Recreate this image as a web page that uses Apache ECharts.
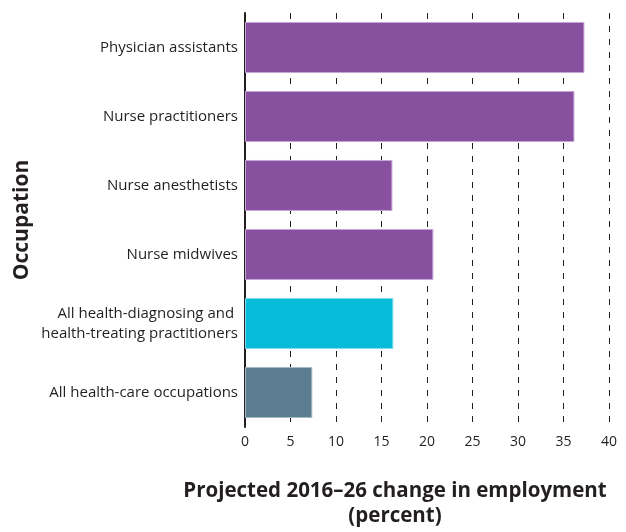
<!DOCTYPE html>
<html>
<head>
<meta charset="utf-8">
<script src="https://cdn.jsdelivr.net/npm/echarts@6/dist/echarts.min.js"></script>
<style>
  html, body { margin: 0; padding: 0; background: #fff; }
  #chart { width: 626px; height: 532px; }
</style>
</head>
<body>
<div id="chart"></div>
<script>
// occupations, top to bottom
const occupations = [
  'Physician assistants',
  'Nurse practitioners',
  'Nurse anesthetists',
  'Nurse midwives',
  'All health-diagnosing and \nhealth-treating practitioners',
  'All health-care occupations'
]
// projected change 2016-26, percent
const changeValues = [37.3, 36.2, 16.2, 20.7, 16.3, 7.4]
const barColors = ['#87519f', '#87519f', '#87519f', '#87519f', '#07bcd9', '#5d7e92']
const barEdges = ['#c9a6d8', '#c9a6d8', '#c9a6d8', '#c9a6d8', '#7fdcec', '#a9bcc8']

const fontFam = '"Open Sans", sans-serif'

const myChart = echarts.init(document.getElementById('chart'))
const option = {
  animation: false,
  grid: {
    left: 245,
    right: 17,
    top: 13,
    bottom: 105,
    containLabel: false
  },
  graphic: [{
    type: 'text',
    x: 395,
    y: 479,
    style: {
      text: 'Projected 2016\u201326 change in employment\n(percent)',
      font: 'bold 20.5px ' + fontFam,
      fill: '#231f20',
      align: 'center',
      lineHeight: 25
    }
  }, {
    // axis title drawn by hand so it sits where the reference has it
    type: 'text',
    x: 22,
    y: 220,
    rotation: Math.PI / 2,
    style: {
      text: 'Occupation',
      font: 'bold 21px ' + fontFam,
      fill: '#231f20',
      align: 'center',
      verticalAlign: 'middle'
    }
  }],
  xAxis: {
    type: 'value',
    min: 0,
    max: 40,
    interval: 5,
    axisLine: { show: false },
    axisTick: { show: false },
    axisLabel: {
      color: '#231f20',
      fontSize: 14,
      fontFamily: fontFam,
      margin: 8
    },
    splitLine: {
      show: true,
      lineStyle: { color: '#231f20', width: 1, type: [6, 7] }
    }
  },
  yAxis: {
    type: 'category',
    inverse: true,
    data: occupations,
    axisLine: { show: true, lineStyle: { color: '#231f20', width: 2 } },
    axisTick: { show: false },
    axisLabel: {
      color: '#231f20',
      fontSize: 15,
      fontFamily: fontFam,
      margin: 7,
      lineHeight: 20
    }
  },
  series: [{
    type: 'bar',
    data: changeValues.map((v, i) => ({
      value: v,
      itemStyle: { color: barColors[i], borderColor: barEdges[i], borderWidth: 1 }
    })),
    barCategoryGap: '26%'
  }]
}
myChart.setOption(option)
window.addEventListener('resize', () => { myChart.resize() })
</script>
</body>
</html>
